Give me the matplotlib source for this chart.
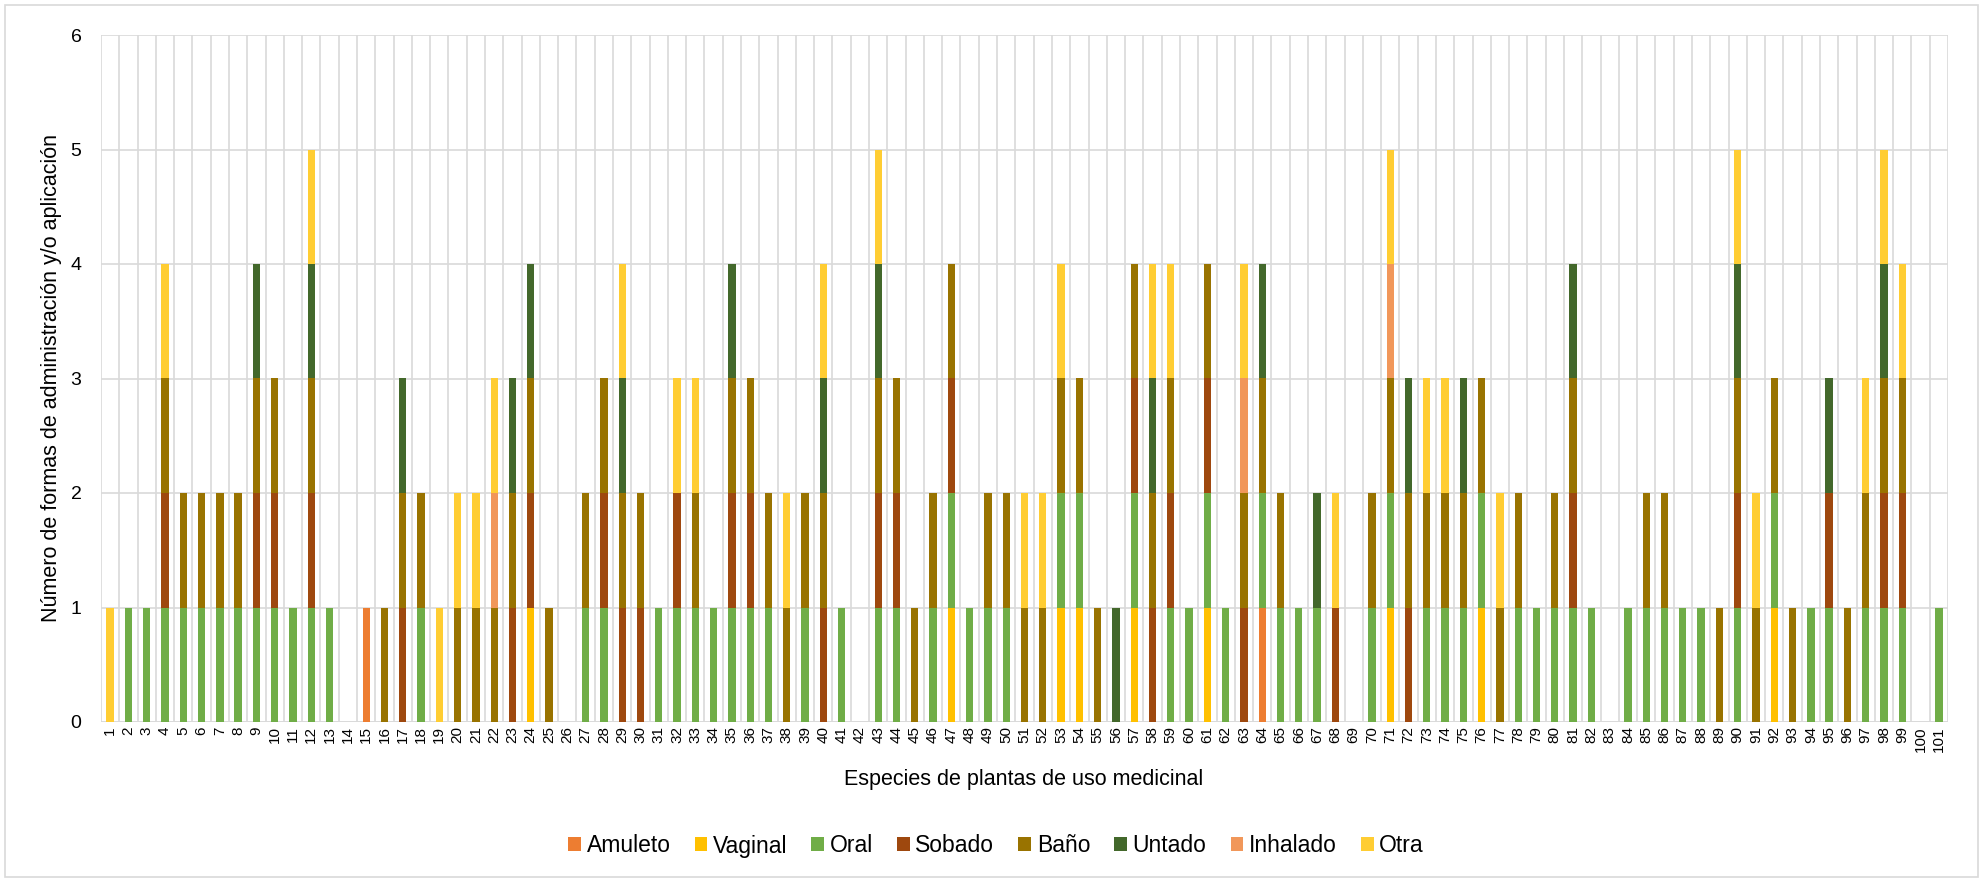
import matplotlib
matplotlib.use("Agg")
import matplotlib.pyplot as plt
from matplotlib.patches import Patch, Rectangle
import numpy as np

plt.rcParams['font.family'] = ['Liberation Sans', 'DejaVu Sans']

# Species numbers 1..101
species = list(range(1, 102))

# Presence (1) / absence (0) of each administration form per species
amuleto = [0,0,0,0,0,0,0,0,0,0,  0,0,0,0,1,0,0,0,0,0,  0,0,0,0,0,0,0,0,0,0,
           0,0,0,0,0,0,0,0,0,0,  0,0,0,0,0,0,0,0,0,0,  0,0,0,0,0,0,0,0,0,0,
           0,0,0,1,0,0,0,0,0,0,  0,0,0,0,0,0,0,0,0,0,  0,0,0,0,0,0,0,0,0,0,
           0,0,0,0,0,0,0,0,0,0,  0]
vaginal = [0,0,0,0,0,0,0,0,0,0,  0,0,0,0,0,0,0,0,0,0,  0,0,0,1,0,0,0,0,0,0,
           0,0,0,0,0,0,0,0,0,0,  0,0,0,0,0,0,1,0,0,0,  0,0,1,1,0,0,1,0,0,0,
           1,0,0,0,0,0,0,0,0,0,  1,0,0,0,0,1,0,0,0,0,  0,0,0,0,0,0,0,0,0,0,
           0,1,0,0,0,0,0,0,0,0,  0]
oral    = [0,1,1,1,1,1,1,1,1,1,  1,1,1,0,0,0,0,1,0,0,  0,0,0,0,0,0,1,1,0,0,
           1,1,1,1,1,1,1,0,1,0,  1,0,1,1,0,1,1,1,1,1,  0,0,1,1,0,0,1,0,1,1,
           1,1,0,1,1,1,1,0,0,1,  1,0,1,1,1,1,0,1,1,1,  1,1,0,1,1,1,1,1,0,1,
           0,1,0,1,1,0,1,1,1,0,  1]
sobado  = [0,0,0,1,0,0,0,0,1,1,  0,1,0,0,0,0,1,0,0,0,  0,0,1,1,0,0,0,1,1,1,
           0,1,0,0,1,1,0,0,0,1,  0,0,1,1,0,0,1,0,0,0,  0,0,0,0,0,0,1,1,1,0,
           1,0,1,0,0,0,0,1,0,0,  0,1,0,0,0,0,0,0,0,0,  1,0,0,0,0,0,0,0,0,1,
           0,0,0,0,1,0,0,1,1,0,  0]
bano    = [0,0,0,1,1,1,1,1,1,1,  0,1,0,0,0,1,1,1,0,1,  1,1,1,1,1,0,1,1,1,1,
           0,0,1,0,1,1,1,1,1,1,  0,0,1,1,1,1,1,0,1,1,  1,1,1,1,1,0,1,1,1,0,
           1,0,1,1,1,0,0,0,0,1,  1,1,1,1,1,1,1,1,0,1,  1,0,0,0,1,1,0,0,1,1,
           1,1,1,0,0,1,1,1,1,0,  0]
untado  = [0,0,0,0,0,0,0,0,1,0,  0,1,0,0,0,0,1,0,0,0,  0,0,1,1,0,0,0,0,1,0,
           0,0,0,0,1,0,0,0,0,1,  0,0,1,0,0,0,0,0,0,0,  0,0,0,0,0,1,0,1,0,0,
           0,0,0,1,0,0,1,0,0,0,  0,1,0,0,1,0,0,0,0,0,  1,0,0,0,0,0,0,0,0,1,
           0,0,0,0,1,0,0,1,0,0,  0]
inhalado = [0,0,0,0,0,0,0,0,0,0,  0,0,0,0,0,0,0,0,0,0,  0,1,0,0,0,0,0,0,0,0,
            0,0,0,0,0,0,0,0,0,0,  0,0,0,0,0,0,0,0,0,0,  0,0,0,0,0,0,0,0,0,0,
            0,0,1,0,0,0,0,0,0,0,  1,0,0,0,0,0,0,0,0,0,  0,0,0,0,0,0,0,0,0,0,
            0,0,0,0,0,0,0,0,0,0,  0]
otra    = [1,0,0,1,0,0,0,0,0,0,  0,1,0,0,0,0,0,0,1,1,  1,1,0,0,0,0,0,0,1,0,
           0,1,1,0,0,0,0,1,0,1,  0,0,1,0,0,0,0,0,0,0,  1,1,1,0,0,0,0,1,1,0,
           0,0,1,0,0,0,0,1,0,0,  1,0,1,1,0,0,1,0,0,0,  0,0,0,0,0,0,0,0,0,1,
           1,0,0,0,0,0,1,1,1,0,  0]

series_names = ["Amuleto", "Vaginal", "Oral", "Sobado", "Baño", "Untado", "Inhalado", "Otra"]
series_values = [amuleto, vaginal, oral, sobado, bano, untado, inhalado, otra]
series_colors = ["#ED7D31", "#FFC000", "#70AD47", "#9E480E", "#997300", "#43682B", "#F1975A", "#FFCD33"]

fig = plt.figure(figsize=(19.86, 8.82), dpi=100)
ax = fig.add_axes([101/1986, 1 - 722/882, (1948 - 101)/1986, (722 - 35)/882])

x = np.array(species)
bottom = np.zeros(len(species))
for name, vals, col in zip(series_names, series_values, series_colors):
    v = np.array(vals, dtype=float)
    ax.bar(x, v, width=0.4, bottom=bottom, color=col, label=name, zorder=3, linewidth=0)
    bottom += v

grid_col = "#D9D9D9"
ax.set_xlim(0.5, 101.5)
ax.set_ylim(0, 6)
ax.set_yticks(range(0, 7))
ax.set_xticks(species)
ax.set_xticklabels([str(s) for s in species], rotation=90, fontsize=11)
ax.tick_params(axis='y', length=0, pad=14, labelsize=14)
ax.tick_params(axis='x', length=0, pad=3)

# Horizontal grid plus vertical lines at category boundaries
ax.yaxis.grid(True, color=grid_col, linewidth=1.2, zorder=0)
for b in np.arange(0.5, 102, 1.0):
    ax.axvline(b, color=grid_col, linewidth=1.2, zorder=0)
for sp in ax.spines.values():
    sp.set_visible(False)
ax.axhline(0, color=grid_col, linewidth=1.2, zorder=1)

ax.set_ylabel("Número de formas de administración y/o aplicación", fontsize=15.5, labelpad=6)
fig.text(1024/1986, 1 - 779/882, "Especies de plantas de uso medicinal",
         ha='center', va='center', fontsize=15.5)

handles = [Patch(facecolor=c, edgecolor='none') for c in series_colors]
fig.legend(handles, series_names, loc='center', bbox_to_anchor=(996/1986, 1 - 846/882),
           ncol=8, frameon=False, fontsize=16.5, handlelength=0.55, handleheight=0.55,
           handletextpad=0.25, columnspacing=1.05, borderaxespad=0)

# Light frame around the chart area
fig.patches.append(Rectangle((5/1986, 5/882), (1978 - 5)/1986, (877 - 5)/882,
                             transform=fig.transFigure, fill=False,
                             edgecolor=grid_col, linewidth=1.2))

fig.savefig("out.png", dpi=100)
